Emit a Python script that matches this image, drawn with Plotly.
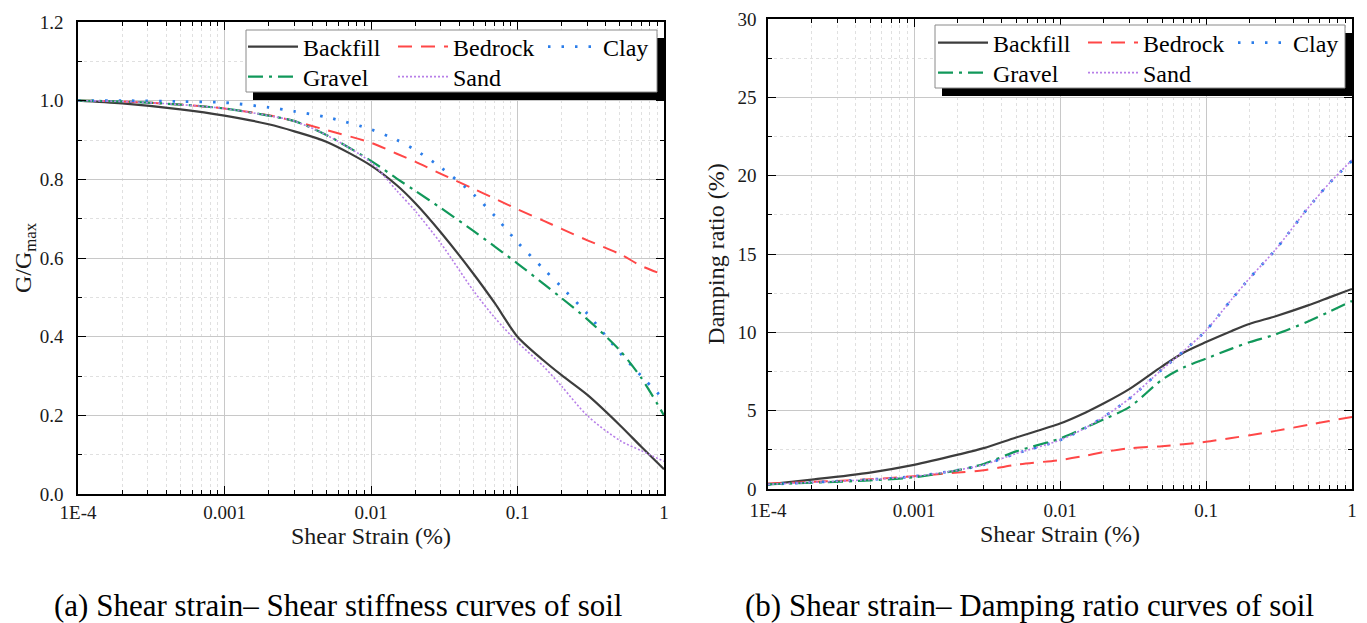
import plotly.graph_objects as go

# ---------------- data ----------------
strain = [1e-4, 2e-4, 5e-4, 1e-3, 2e-3, 3e-3, 5e-3, 0.01, 0.015, 0.02, 0.03,
          0.05, 0.07, 0.1, 0.15, 0.2, 0.3, 0.5, 0.7, 1.0]

g_backfill = [1.0, 0.993, 0.978, 0.962, 0.940, 0.922, 0.895, 0.835, 0.785, 0.740, 0.665,
              0.560, 0.485, 0.400, 0.340, 0.302, 0.252, 0.175, 0.120, 0.063]
g_bedrock = [1.0, 0.998, 0.990, 0.980, 0.963, 0.948, 0.925, 0.893, 0.865, 0.845, 0.814,
             0.776, 0.751, 0.724, 0.695, 0.674, 0.645, 0.610, 0.580, 0.557]
g_clay = [1.0, 1.0, 0.998, 0.995, 0.983, 0.973, 0.958, 0.927, 0.900, 0.875, 0.830,
          0.762, 0.707, 0.640, 0.573, 0.526, 0.458, 0.359, 0.300, 0.240]
g_gravel = [1.0, 0.998, 0.990, 0.980, 0.962, 0.948, 0.912, 0.847, 0.802, 0.771, 0.727,
            0.669, 0.629, 0.586, 0.535, 0.498, 0.444, 0.365, 0.295, 0.200]
g_sand = [1.0, 0.998, 0.990, 0.980, 0.962, 0.948, 0.912, 0.843, 0.771, 0.720, 0.637,
          0.517, 0.448, 0.386, 0.325, 0.274, 0.199, 0.136, 0.110, 0.083]

d_backfill = [0.30, 0.60, 1.05, 1.54, 2.19, 2.61, 3.29, 4.18, 4.89, 5.47, 6.39,
              7.83, 8.70, 9.38, 10.09, 10.55, 11.03, 11.72, 12.23, 12.77]
d_bedrock = [0.35, 0.45, 0.62, 0.82, 1.05, 1.20, 1.55, 1.85, 2.13, 2.36, 2.60,
             2.73, 2.86, 3.01, 3.26, 3.43, 3.71, 4.09, 4.34, 4.60]
d_clay = [0.30, 0.42, 0.60, 0.80, 1.21, 1.55, 2.26, 3.12, 3.91, 4.61, 5.79,
          7.63, 8.79, 10.12, 12.11, 13.48, 15.29, 17.94, 19.52, 20.95]
d_gravel = [0.30, 0.40, 0.55, 0.75, 1.20, 1.60, 2.40, 3.22, 3.93, 4.45, 5.24,
            6.98, 7.75, 8.32, 8.96, 9.38, 9.87, 10.69, 11.32, 12.00]
d_sand = [0.30, 0.42, 0.60, 0.80, 1.21, 1.55, 2.26, 3.12, 3.91, 4.61, 5.79,
          7.63, 8.79, 10.12, 12.11, 13.48, 15.29, 17.94, 19.52, 21.00]

x_tickvals = [1e-4, 1e-3, 1e-2, 1e-1, 1.0]
x_ticktext = ["1E-4", "0.001", "0.01", "0.1", "1"]

names = ["Backfill", "Bedrock", "Clay", "Gravel", "Sand"]
colors = ["#3d3d3d", "#ff4747", "#2b7de9", "#11985a", "#b77fe8"]
dashes = ["solid", "14px,9px", "2.5px,11px", "15px,6px,3px,6px", "2px,2px"]
widths = [2.2, 2.0, 2.8, 2.2, 1.6]

G = [g_backfill, g_bedrock, g_clay, g_gravel, g_sand]
D = [d_backfill, d_bedrock, d_clay, d_gravel, d_sand]

W, H = 1367, 623
SERIF = "Liberation Serif, Times New Roman, serif"


def px(x):
    return x / W


def py(y):
    return 1 - y / H


fig = go.Figure()

for i, name in enumerate(names):
    leg_left = "legend" if i < 3 else "legend2"
    leg_right = "legend3" if i < 3 else "legend4"
    fig.add_trace(go.Scatter(
        x=strain, y=G[i], name=name, mode="lines",
        line=dict(color=colors[i], dash=dashes[i], width=widths[i], shape="spline", smoothing=0.8),
        xaxis="x", yaxis="y", legend=leg_left))
    fig.add_trace(go.Scatter(
        x=strain, y=D[i], name=name, mode="lines",
        line=dict(color=colors[i], dash=dashes[i], width=widths[i], shape="spline", smoothing=0.8),
        xaxis="x2", yaxis="y2", legend=leg_right))

minor_x = [k * 10 ** e for e in range(-4, 0) for k in range(2, 10)]

tickfont = dict(family=SERIF, size=19, color="#1a1a1a")
titlefont = dict(family=SERIF, size=24, color="#1a1a1a")

common = dict(
    showline=True, linecolor="black", linewidth=1.5, mirror="ticks",
    ticks="inside", ticklen=8, tickwidth=1.2, tickcolor="black",
    showgrid=True, gridcolor="#c8c8c8", gridwidth=1,
    zeroline=False, tickfont=tickfont, automargin=False,
)

xcommon = dict(common, type="log", range=[-4, 0], tickmode="array",
               tickvals=x_tickvals, ticktext=x_ticktext,
               minor=dict(tickmode="array", tickvals=minor_x, ticks="inside", ticklen=4,
                          tickcolor="black", showgrid=True, gridcolor="#e0e0e0",
                          griddash="dot", gridwidth=1),
               title=dict(text="Shear Strain (%)", font=titlefont, standoff=0))

fig.update_layout(
    width=W, height=H,
    margin=dict(l=0, r=0, t=0, b=0, autoexpand=False),
    paper_bgcolor="white", plot_bgcolor="white",
    font=dict(family=SERIF, color="black"),
    xaxis=dict(xcommon, domain=[px(78), px(664)], anchor="y", ticklabelstandoff=0),
    yaxis=dict(common, domain=[py(494), py(22)], anchor="x", range=[0, 1.2],
               tickmode="linear", tick0=0, dtick=0.2, tickformat=".1f",
               minor=dict(dtick=0.1, ticks="inside", ticklen=4, tickcolor="black",
                          showgrid=True, gridcolor="#e0e0e0", griddash="dot"),
               title=dict(text="G/G<sub>max</sub>", font=titlefont, standoff=0),
               ticklabelstandoff=9),
    xaxis2=dict(xcommon, domain=[px(768), px(1352)], anchor="y2", ticklabelstandoff=3),
    yaxis2=dict(common, domain=[py(489), py(19)], anchor="x2", range=[0, 30],
                tickmode="linear", tick0=0, dtick=5,
                minor=dict(dtick=2.5, ticks="inside", ticklen=4, tickcolor="black",
                           showgrid=True, gridcolor="#e0e0e0", griddash="dot"),
                title=dict(text="Damping ratio (%)", font=titlefont, standoff=6),
                ticklabelstandoff=6),
)

legfont = dict(family=SERIF, size=24, color="black")
legcommon = dict(orientation="h", xanchor="left", yanchor="middle",
                 bgcolor="rgba(0,0,0,0)", borderwidth=0, font=legfont,
                 entrywidth=85, itemwidth=50, tracegroupgap=0, traceorder="normal")
fig.update_layout(
    legend=dict(legcommon, x=px(243), y=py(47)),
    legend2=dict(legcommon, x=px(243), y=py(77)),
    legend3=dict(legcommon, x=px(933), y=py(43)),
    legend4=dict(legcommon, x=px(933), y=py(73)),
)

# legend frames with drop shadow
for (x0, y0, x1, y1) in [(246, 30, 657, 92), (935, 25, 1345, 88)]:
    fig.add_shape(type="rect", xref="paper", yref="paper",
                  x0=px(x0 + 7), x1=px(x1 + 8), y0=py(y1 + 8), y1=py(y0 + 8),
                  fillcolor="black", line=dict(width=0), layer="above")
    fig.add_shape(type="rect", xref="paper", yref="paper",
                  x0=px(x0), x1=px(x1), y0=py(y1), y1=py(y0),
                  fillcolor="white", line=dict(color="#8a8a8a", width=1), layer="above")

capfont = dict(family=SERIF, size=31, color="black")
fig.add_annotation(text="(a) Shear strain– Shear stiffness curves of soil",
                   xref="paper", yref="paper", x=px(338), y=py(605),
                   xanchor="center", yanchor="middle", showarrow=False, font=capfont)
fig.add_annotation(text="(b) Shear strain– Damping ratio curves of soil",
                   xref="paper", yref="paper", x=px(1029), y=py(605),
                   xanchor="center", yanchor="middle", showarrow=False, font=capfont)

fig.write_html("out.html")
